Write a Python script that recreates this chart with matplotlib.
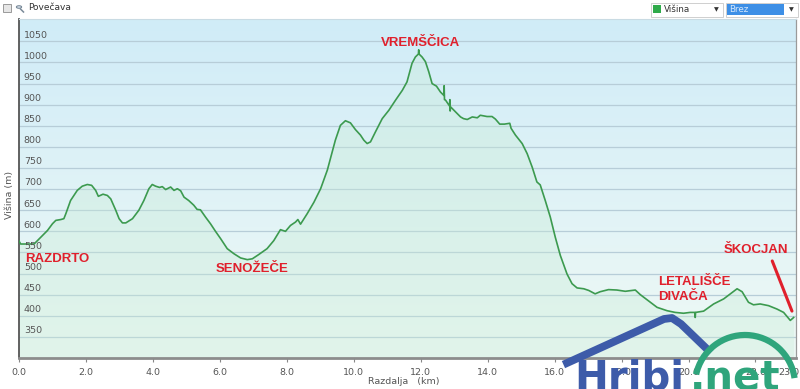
import matplotlib
matplotlib.use("Agg")
import matplotlib.pyplot as plt
import matplotlib.transforms as mtransforms
from matplotlib.colors import LinearSegmentedColormap
from matplotlib.patches import Rectangle, Arc, Circle
from matplotlib.lines import Line2D
import numpy as np

# profil poti: razdalja (km) in višina (m)
razdalja = [0.0, 0.05, 0.1, 0.45, 0.6, 0.85, 1.0, 1.1, 1.25, 1.34, 1.4, 1.54, 1.74, 1.89,
            2.04, 2.17, 2.29, 2.37, 2.51, 2.64, 2.74, 2.89, 2.99, 3.09, 3.19, 3.39, 3.58,
            3.73, 3.88, 3.98, 4.08, 4.2, 4.28, 4.38, 4.53, 4.63, 4.73, 4.83, 4.93, 5.07,
            5.22, 5.32, 5.42, 5.57, 5.72, 5.87, 6.02, 6.22, 6.42, 6.62, 6.82, 6.97, 7.16,
            7.41, 7.61, 7.81, 7.96, 8.11, 8.26, 8.33, 8.41, 8.61, 8.81, 9.01, 9.21, 9.3,
            9.45, 9.6, 9.75, 9.9, 10.05, 10.2, 10.3, 10.4, 10.5, 10.65, 10.85, 11.05,
            11.25, 11.45, 11.59, 11.74, 11.84, 11.93, 11.94, 11.95, 12.04, 12.14, 12.24,
            12.34, 12.47, 12.59, 12.69, 12.70, 12.71, 12.74, 12.86, 12.87, 12.88, 12.89,
            13.09, 13.19, 13.28, 13.39, 13.54, 13.69, 13.78, 13.98, 14.13, 14.23, 14.36,
            14.5, 14.66, 14.7, 14.83, 15.03, 15.18, 15.33, 15.47, 15.57, 15.72, 15.87,
            16.02, 16.17, 16.37, 16.52, 16.67, 16.87, 17.02, 17.21, 17.36, 17.61, 17.86,
            18.11, 18.41, 18.56, 18.76, 19.06, 19.36, 19.6, 19.85, 20.05, 20.19, 20.2,
            20.21, 20.45, 20.75, 21.05, 21.25, 21.45, 21.6, 21.79, 21.94, 22.14, 22.39,
            22.64, 22.84, 23.04, 23.14]
visina = [577, 570, 570, 570, 582, 602, 618, 626, 628, 630, 642, 673, 697, 707,
          711, 709, 697, 683, 688, 685, 677, 650, 630, 620, 620, 630, 650,
          673, 701, 711, 707, 704, 706, 699, 705, 697, 701, 696, 681, 673,
          662, 652, 651, 634, 618, 600, 583, 559, 547, 537, 533, 535, 545,
          559, 578, 604, 600, 614, 622, 628, 617, 642, 669, 701, 745, 772,
          816, 851, 862, 857, 841, 828, 816, 808, 812, 836, 867, 887,
          911, 934, 954, 998, 1013, 1020, 1030, 1020, 1013, 1002, 978,
          950, 944, 930, 922, 945, 912, 911, 897, 912, 885, 895,
          879, 871, 867, 865, 871, 869, 875, 872, 872, 866, 854,
          854, 856, 844, 828, 808, 784, 752, 717, 710, 673, 634,
          586, 543, 499, 476, 466, 464, 460, 452, 457, 462, 461,
          458, 461, 450, 438, 420, 412, 408, 406, 408, 408, 396,
          408, 411, 428, 440, 452, 464, 457, 432, 426, 428, 424,
          416, 408, 389, 396]

y_oznake = [350, 400, 450, 500, 550, 600, 650, 700, 750, 800, 850, 900, 950, 1000, 1050]
x_oznake = [0, 2, 4, 6, 8, 10, 12, 14, 16, 18, 20, 22, 23]

kraji = ["RAZDRTO", "SENOŽEČE", "VREMŠČICA", "LETALIŠČE\nDIVAČA", "ŠKOCJAN"]
kraji_km = [0.17, 6.95, 12.0, 19.1, 21.05]
kraji_m = [535, 510, 1046, 463, 557]
kraji_ha = ["left", "center", "center", "left", "left"]

W, H = 800, 389


def fpx(x, y):
    # slikovne točke -> koordinate figure
    return x / W, 1 - y / H


fig = plt.figure(figsize=(8, 3.89), dpi=100)
fig.patch.set_facecolor("white")
ax = fig.add_axes([19 / W, 1 - 358 / H, 777 / W, 339 / H])

xmax = 23.21
ymin, ymax = 300, 1103
ax.set_xlim(0, xmax)
ax.set_ylim(ymin, ymax)

# ozadje z barvnim prelivom
cmap = LinearSegmentedColormap.from_list("ozadje", ["#eff9f5", "#d0ecf8"])
grad = np.linspace(0, 1, 256).reshape(-1, 1)
ax.imshow(grad, extent=[0, xmax, ymin, ymax], origin="lower", aspect="auto",
          cmap=cmap, zorder=0)

for v in y_oznake:
    ax.axhline(v, color="#b7cdd8", lw=0.9, zorder=1)

ax.fill_between(razdalja, visina, ymin, color="#c8ecd6", alpha=0.35, lw=0, zorder=2)
ax.plot(razdalja, visina, color="#3c9a4f", lw=1.2, zorder=3)

# oznake osi y znotraj grafa
trans = mtransforms.blended_transform_factory(ax.transAxes, ax.transData)
for v in y_oznake:
    ax.annotate(str(v), xy=(0, v), xycoords=trans, xytext=(3.5, 1.2),
                textcoords="offset points", ha="left", va="bottom",
                fontsize=6.8, color="#555555", zorder=4)
ax.set_yticks([])

ax.set_xticks(x_oznake)
ax.set_xticklabels([f"{v:.1f}" for v in x_oznake])
ax.tick_params(axis="x", length=3, width=0.8, color="#888888", labelsize=6.8,
               labelcolor="#555555", pad=4)

ax.spines["top"].set_color("#c9dbe3")
ax.spines["top"].set_linewidth(0.8)
ax.spines["right"].set_color("#9a9a9a")
ax.spines["right"].set_linewidth(0.9)
ax.spines["left"].set_color("#555555")
ax.spines["left"].set_linewidth(1.3)
ax.spines["bottom"].set_color("#8c8c8c")
ax.spines["bottom"].set_linewidth(2)

fig.text(10 / W, 1 - 195 / H, "Višina (m)", rotation=90, ha="center", va="center",
         fontsize=6.8, color="#555555")
fig.text(404 / W, 1 - 381 / H, "Razdalja   (km)", ha="center", va="center",
         fontsize=6.8, color="#555555")

# imena krajev
for ime, xk, yk, ha in zip(kraji, kraji_km, kraji_m, kraji_ha):
    ax.text(xk, yk, ime, ha=ha, va="center", fontsize=9.5, fontweight="bold",
            color="#e0202c", family="Liberation Sans", linespacing=1.3, zorder=5)
ax.annotate("", xy=(23.12, 405), xytext=(22.47, 536),
            arrowprops=dict(arrowstyle="-", color="#e0202c", lw=2.2), zorder=5)

# glava
fig.add_artist(Rectangle(fpx(3, 12), 8 / W, 8 / H, transform=fig.transFigure,
                         facecolor="#e6e6e6", edgecolor="#9a9a9a", lw=0.7))
fig.add_artist(Circle(fpx(19, 7), 2.6 / W, transform=fig.transFigure,
                      facecolor="#dfe9f2", edgecolor="#7a8a99", lw=0.8))
fig.add_artist(Line2D([20.5 / W, 23.5 / W], [1 - 9 / H, 1 - 12 / H],
                      transform=fig.transFigure, color="#7a8a99", lw=1.1))
fig.text(28 / W, 1 - 8 / H, "Povečava", ha="left", va="center", fontsize=6.5,
         color="#333333")

fig.add_artist(Rectangle(fpx(651, 17), 72 / W, 14 / H, transform=fig.transFigure,
                         facecolor="white", edgecolor="#cfcfcf", lw=0.7))
fig.add_artist(Rectangle(fpx(653, 13), 8 / W, 8 / H, transform=fig.transFigure,
                         facecolor="#2faa4a", edgecolor="none"))
fig.text(664 / W, 1 - 9.5 / H, "Višina", ha="left", va="center", fontsize=6.3,
         color="#333333")
fig.text(716 / W, 1 - 10 / H, "▼", ha="center", va="center", fontsize=4.5,
         color="#333333")
fig.add_artist(Rectangle(fpx(726, 17), 72 / W, 14 / H, transform=fig.transFigure,
                         facecolor="white", edgecolor="#cfcfcf", lw=0.7))
fig.add_artist(Rectangle(fpx(727, 15), 57 / W, 11 / H, transform=fig.transFigure,
                         facecolor="#3d8fe6", edgecolor="none"))
fig.text(729 / W, 1 - 9.5 / H, "Brez", ha="left", va="center", fontsize=6.3,
         color="#d5e7fb")
fig.text(791 / W, 1 - 10 / H, "▼", ha="center", va="center", fontsize=4.5,
         color="#333333")

# logotip Hribi.net
streha = Line2D([567 / W, 664 / W, 672 / W, 681 / W, 708 / W],
                [1 - 363 / H, 1 - 319 / H, 1 - 318 / H, 1 - 324 / H, 1 - 350 / H],
                transform=fig.transFigure, color="#3d5ba9", lw=5.6,
                solid_joinstyle="round", zorder=6)
fig.add_artist(streha)
fig.add_artist(Arc(fpx(745, 385), 100 / W, 100 / H, theta1=16, theta2=156,
                   transform=fig.transFigure, color="#2fa57c", lw=4.5, zorder=6))
fig.text(574 / W, 1 - 389 / H, "Hribi", ha="left", va="baseline", fontsize=29,
         fontweight="bold", family="DejaVu Sans", color="#3d5ba9", zorder=7)
fig.text(690 / W, 1 - 389 / H, ".net", ha="left", va="baseline", fontsize=29,
         fontweight="bold", family="DejaVu Sans", color="#2fa57c", zorder=7)

fig.savefig("out.png", dpi=100)
